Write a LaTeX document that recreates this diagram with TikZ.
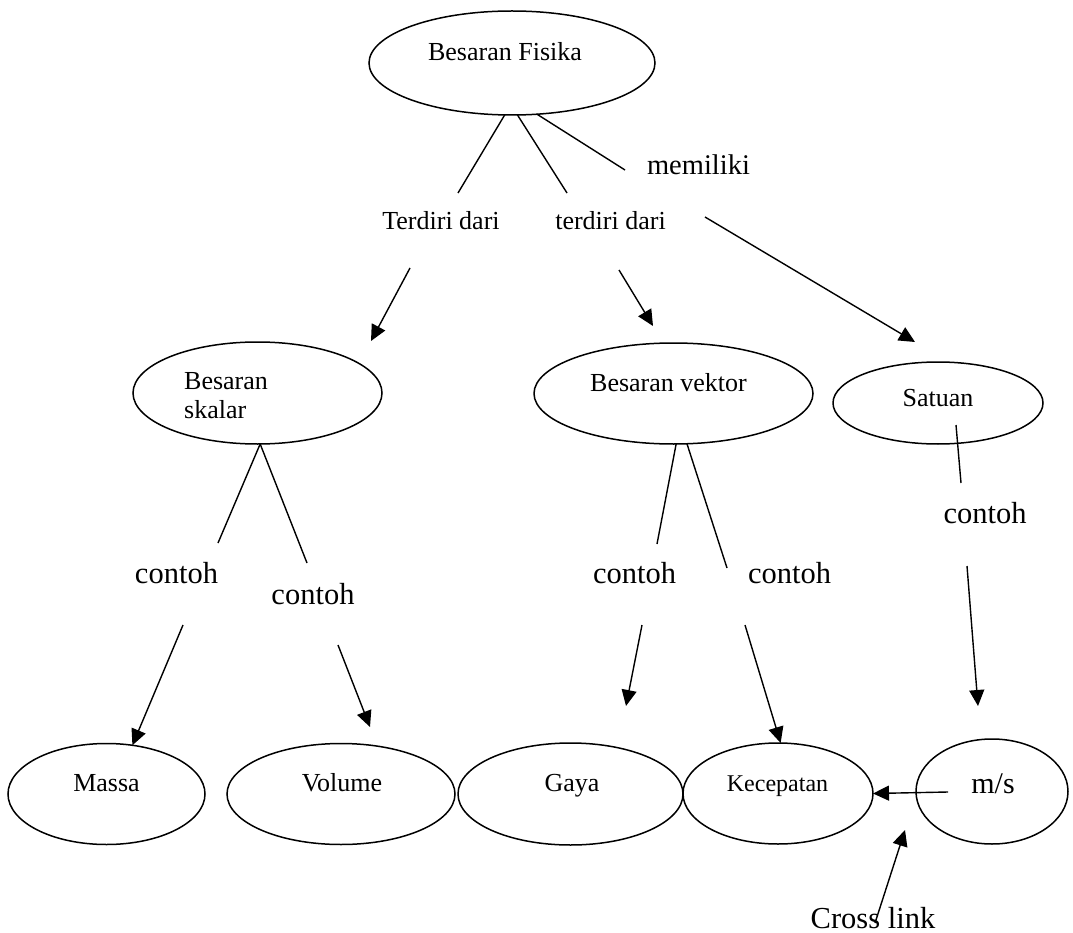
\documentclass[tikz,border=0pt]{standalone}
\usepackage{fontspec}
\setmainfont{Liberation Serif}
\usetikzlibrary{arrows.meta,shapes.geometric}
\begin{document}
\begin{tikzpicture}[x=1pt,y=-1pt,
  oval/.style={draw, ellipse, line width=1.5pt, inner sep=0pt, outer sep=0pt},
  lbl/.style={inner sep=0pt, anchor=base, font=\fontsize{26}{29}\selectfont},
  big/.style={inner sep=0pt, anchor=base, font=\fontsize{30.5}{34}\selectfont},
  ln/.style={line width=1.4pt},
  arr/.style={line width=1.4pt, -{Triangle[length=16pt,width=15pt]}}]
\useasboundingbox[fill=white] (0,0) rectangle (1073,933);

% ellipses
\node[oval, minimum width=286pt, minimum height=104pt] (fis) at (512,63) {};
\node[oval, minimum width=249pt, minimum height=102pt] (skal) at (257.5,393) {};
\node[oval, minimum width=279pt, minimum height=101pt] (vek) at (673.5,393.5) {};
\node[oval, minimum width=210pt, minimum height=82pt] (sat) at (938,403) {};
\node[oval, minimum width=197pt, minimum height=101pt] (massa) at (106.5,794) {};
\node[oval, minimum width=228pt, minimum height=101pt] (vol) at (341,794) {};
\node[oval, minimum width=225pt, minimum height=102pt] (gaya) at (570.5,794) {};
\node[oval, minimum width=190pt, minimum height=101pt] (kec) at (778,793.5) {};
\node[oval, minimum width=152pt, minimum height=105pt] (ms) at (992,791.5) {};

% texts in ellipses
\node[lbl] (fisT) at (505,61) {Besaran Fisika};
\node[lbl, anchor=north west, align=left] (skalT) at (184,371.8) {Besaran\\skalar};
\node[lbl] (vekT) at (668.5,391) {Besaran vektor};
\node[lbl] (satT) at (938,406) {Satuan};
\node[lbl] (massaT) at (106.5,791) {Massa};
\node[lbl] (volT) at (342,791) {Volume};
\node[lbl] (gayaT) at (572,791) {Gaya};
\node[lbl, font=\fontsize{24}{28}\selectfont] (kecT) at (777.5,791) {Kecepatan};
\node[big, font=\fontsize{30}{34}\selectfont] (msT) at (993,793) {m/s};

% link labels
\node[lbl] (td1) at (441,230) {Terdiri dari};
\node[lbl] (td2) at (610.5,230) {terdiri dari};
\node[big, font=\fontsize{28.5}{32}\selectfont] (mem) at (698.5,175) {memiliki};
\node[big] (c1) at (176.5,583) {contoh};
\node[big] (c2) at (313,604) {contoh};
\node[big] (c3) at (634.5,583) {contoh};
\node[big] (c4) at (789.5,583) {contoh};
\node[big] (c5) at (985,523) {contoh};
\node[big] (cross) at (873,928) {Cross link};

% free ends
\coordinate (a1) at (458,193);
\coordinate (a2) at (567,193);
\coordinate (a3) at (625,170);
\coordinate (b1) at (410,268);
\coordinate (b1t) at (371,341);
\coordinate (b2) at (619,270);
\coordinate (b2t) at (653,326);
\coordinate (b3) at (705,217);
\coordinate (b3t) at (915,342);
\coordinate (s1) at (218,543);
\coordinate (s2) at (307,563);
\coordinate (v1) at (657,544);
\coordinate (v2) at (727,568);
\coordinate (u0) at (956,425);
\coordinate (u1) at (961,483);
\coordinate (m1) at (183,625);
\coordinate (m2) at (338,645);
\coordinate (m2t) at (370,727);
\coordinate (g1) at (642,625);
\coordinate (g1t) at (626,706);
\coordinate (k1) at (745,625);
\coordinate (ms1) at (967,566);
\coordinate (ms1t) at (978,706);
\coordinate (x0) at (948,792);
\coordinate (cl0) at (875,923);
\coordinate (cl1) at (905,830);

% plain lines
\draw[ln] (fis.-98.7) -- (a1);
\draw[ln] (fis.-84.5) -- (a2);
\draw[ln] (fis.-64) -- (a3);
\draw[ln] (skal.-87) -- (s1);
\draw[ln] (skal.-87) -- (s2);
\draw[ln] (vek.-87) -- (v1);
\draw[ln] (vek.-75) -- (v2);
\draw[ln] (u0) -- (u1);

% arrows
\draw[arr] (b1) -- (b1t);
\draw[arr] (b2) -- (b2t);
\draw[arr] (b3) -- (b3t);
\draw[arr] (m1) -- (massa.62);
\draw[arr] (m2) -- (m2t);
\draw[arr] (g1) -- (g1t);
\draw[arr] (k1) -- (kec.87);
\draw[arr] (ms1) -- (ms1t);
\draw[arr] (x0) -- (kec.east);
\draw[arr] (cl0) -- (cl1);
\end{tikzpicture}
\end{document}
